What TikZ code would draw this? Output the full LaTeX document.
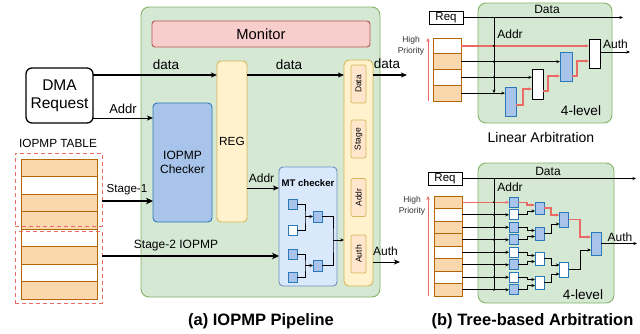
\documentclass[tikz,border=0pt]{standalone}
\usepackage{fontspec}
\setmainfont{Liberation Sans}
\usetikzlibrary{arrows.meta}
\definecolor{grnF}{HTML}{D5E8D4}
\definecolor{grnD}{HTML}{82B366}
\definecolor{redF}{HTML}{F8CECC}
\definecolor{redD}{HTML}{B85450}
\definecolor{ylwF}{HTML}{FFF2CC}
\definecolor{ylwD}{HTML}{D6B656}
\definecolor{tagF}{HTML}{FFE6CC}
\definecolor{bluF}{HTML}{A9C4EB}
\definecolor{bluD}{HTML}{2A78B8}
\definecolor{mtF}{HTML}{DAE8FC}
\definecolor{mtD}{HTML}{6C8EBF}
\definecolor{tabF}{HTML}{FAD7AC}
\definecolor{tabD}{HTML}{B46504}
\definecolor{hot}{HTML}{EA6B66}
\newcommand\fsz[2]{\fontsize{#1}{#2}\selectfont}
\begin{document}
\begin{tikzpicture}[x=1pt,y=-1pt,
  every node/.style={inner sep=0pt,outer sep=0pt},
  txt/.style={font=\fsz{13.5}{15}},
  lbl/.style={font=\fsz{12}{13}},
  panel/.style={draw=grnD,fill=grnF,line width=0.9pt,rounded corners=8pt},
  blk/.style={draw=bluD,fill=bluF,line width=0.8pt},
  wblk/.style={draw=bluD,fill=white,line width=0.8pt},
  kblk/.style={draw=black,fill=white,line width=0.8pt},
  row/.style={draw=tabD,line width=0.9pt,minimum width=#1},
  tag/.style={draw=ylwD,fill=tagF,line width=0.7pt,rounded corners=2pt,minimum width=15pt,minimum height=38pt},
  reqbox/.style={draw,line width=1pt,fill=white,minimum width=34pt,minimum height=13pt,font=\fsz{11.5}{12}},
  arr/.style={-{Stealth[length=6pt,width=5pt,inset=1.5pt]},line width=1.2pt},
  bigarr/.style={-{Stealth[length=7pt,width=6.5pt,inset=2pt]},line width=2.2pt},
  sarr/.style={-{Stealth[length=3.5pt,width=3pt,inset=1pt]},line width=0.8pt},
  link/.style={line width=0.8pt},
  hotarr/.style={sarr,draw=hot,line width=1.3pt},
  dot/.style={circle,fill=black,minimum size=2.4pt},
  caption/.style={font=\bfseries\fsz{16.5}{18}},
]
\useasboundingbox (0,0) rectangle (640,333);

% ---------------- (a) pipeline ----------------
\node[panel,minimum width=239pt,minimum height=290pt] (pipe) at (260.5,152) {};
\node[draw=redD,fill=redF,line width=0.9pt,rounded corners=3pt,minimum width=218pt,minimum height=26pt,font=\fsz{14.7}{16}] (mon) at (261,34) {Monitor};

\node[draw,line width=1.3pt,rounded corners=6pt,fill=white,minimum width=67pt,minimum height=55pt,align=center,font=\fsz{15.5}{18}] (dma) at (59.5,95.5) {DMA\\Request};

\node[blk,line width=0.9pt,rounded corners=4pt,minimum width=59pt,minimum height=119pt,align=center,font=\fsz{12}{14.5}] (chk) at (182.5,162.5) {IOPMP\\Checker};

\node[draw=ylwD,fill=ylwF,line width=0.9pt,rounded corners=4pt,minimum width=30pt,minimum height=161pt,font=\fsz{11.8}{13}] (reg) at (232,141.5) {REG};

% output register column
\node[draw=ylwD,fill=ylwF,line width=0.9pt,rounded corners=5pt,minimum width=29pt,minimum height=226pt] (col) at (358.5,173) {};
\foreach \n/\y/\t in {tData/84/Data,tStage/139/Stage,tAddr/197.5/Addr,tAuth/254/Auth}{
  \node[tag] (\n) at (358.5,\y) {};
  \node[rotate=90,font=\fsz{8.5}{9}] at (\n) {\t};
}

% IOPMP table
\node[lbl,font=\fsz{11.8}{13}] (tabl) at (58,143) {IOPMP TABLE};
\foreach \i/\c in {0/tabF,1/white,2/tabF,3/tabF,4/white,5/tabF,6/white,7/tabF}
  \node[row=76pt,fill=\c,minimum height=17.5pt] (ir\i) at (59,167.75+\i*17.5) {};
\node[draw=hot,dashed,dash pattern=on 4pt off 3pt,line width=1pt,minimum width=87pt,minimum height=73pt] (tab1) at (58.5,189.5) {};
\node[draw=hot,dashed,dash pattern=on 4pt off 3pt,line width=1pt,minimum width=87pt,minimum height=72pt] (tab2) at (58.5,267) {};

% MT checker
\node[draw=mtD,fill=mtF,line width=0.9pt,rounded corners=4pt,minimum width=58pt,minimum height=119pt] (mt) at (308,226.5) {};
\node[font=\bfseries\fsz{9.6}{11}] (mtl) at (308,183.5) {MT checker};
\foreach \n/\y/\s in {mA/204/blk,mB/230/wblk,mC/254/blk,mD/277/blk}
  \node[\s,minimum width=9pt,minimum height=10pt] (\n) at (292.5,\y) {};
\node[blk,minimum width=9pt,minimum height=11pt] (mE) at (317.5,216.5) {};
\node[blk,minimum width=9pt,minimum height=11pt] (mF) at (317.5,265.5) {};
\coordinate (jE) at (305,216.5);
\coordinate (jF) at (305,265.5);
\coordinate (jO) at (333,240);
\draw[link] (mA.east) -| (jE) |- (mB.east);
\draw[sarr] (jE) -- (mE.west);
\draw[link] (mC.east) -| (jF) |- (mD.east);
\draw[sarr] (jF) -- (mF.west);
\draw[link] (mE.east) -| (jO) |- (mF.east);
\draw[sarr] (jO) -- (col.west |- jO);

% pipeline connectors
\draw[arr] (dma.east |- 0,75) -- (reg.west |- 0,75);
\node[txt] at (166,65) {data};
\draw[arr,line width=1pt] (dma.east |- 0,118) -- (chk.west |- 0,118);
\node[txt,font=\fsz{13}{14}] at (123,108.5) {Addr};
\draw[arr] (reg.east |- 0,75) -- (col.west |- 0,75);
\node[txt] at (289,65) {data};
\draw[arr] (col.east |- 0,75) -- (407,75);
\node[txt] at (387,64) {data};
\draw[arr,line width=1pt] (reg.east |- 0,188) -- (mt.west |- 0,188);
\node[lbl] at (261.5,178) {Addr};
\draw[bigarr] (tab1.east |- 0,201) -- (chk.west |- 0,201);
\node[lbl,font=\fsz{11.6}{13}] at (127,190) {Stage-1};
\draw[bigarr] (tab2.east |- 0,256) -- (mt.west |- 0,256);
\node[lbl] at (176,246) {Stage-2 IOPMP};
\draw[arr,line width=1pt] (col.east |- 0,262) -- (400,262);
\node[lbl] at (385.5,251.5) {Auth};

\node[caption] at (261,321.5) {(a) IOPMP Pipeline};

% ---------------- (b) linear arbitration ----------------
\node[panel,minimum width=134pt,minimum height=120pt] (gL) at (545,63) {};
\node[reqbox] (reqL) at (446,17.5) {Req};
\draw[sarr,line width=1pt] (reqL.east) -- (623,17.5);
\node[lbl] at (547,9) {Data};
\foreach \i/\c in {0/white,1/tabF,2/white,3/tabF}
  \node[row=28pt,fill=\c,minimum height=15.75pt] (lr\i) at (447,45.875+\i*15.75) {};
\draw[-{Stealth[length=4pt,width=3.5pt]},draw=hot,line width=1pt] (lr3.south west) ++(-5,0) coordinate (pL0) -- (pL0 |- lr0.north);
\node[align=center,font=\fsz{8.5}{11},text=black!80] at (411,46) {High\\Priority};

\node[blk,minimum width=11pt,minimum height=29pt] (lb1) at (510.5,101.5) {};
\node[kblk,minimum width=11pt,minimum height=30pt] (lw1) at (537.5,84) {};
\node[blk,minimum width=12pt,minimum height=29pt] (lb2) at (566,66.5) {};
\node[kblk,minimum width=11pt,minimum height=29pt] (lw2) at (594.5,53.5) {};

\coordinate (aL) at (494,17.5);
\draw[sarr] (aL) -- (aL |- lr3.east);
\node[lbl] at (510,34) {Addr};
\draw[hotarr] (lr0.east) -- (lw2.west |- lr0.east);
\draw[sarr] (lr1.east) -- (lb2.west |- lr1.east);
\draw[sarr] (lr2.east) -- (lw1.west |- lr2.east);
\draw[sarr] (lr3.east) -- (lb1.west |- lr3.east);
\foreach \i in {0,1,2} \node[dot] at (aL |- lr\i.east) {};

\draw[hotarr] (lb1.east |- 0,105) -| (523,89) -- (lw1.west |- 0,89);
\draw[hotarr] (lw1.east |- 0,91) -| (548,76) -- (lb2.west |- 0,76);
\draw[hotarr] (lb2.east |- 0,76) -| (577,61) -- (lw2.west |- 0,61);
\draw[sarr,line width=1pt] (lw2.east |- 0,52) -- (630,52);
\node[lbl] at (615.5,44.5) {Auth};
\node[font=\fsz{13.6}{15}] at (581,111) {4-level};
\node[font=\fsz{14}{15}] at (541,137.5) {Linear Arbitration};

% ---------------- (b) tree arbitration ----------------
\node[panel,minimum width=136pt,minimum height=140pt] (gT) at (546,233) {};
\node[reqbox] (reqT) at (445,178.5) {Req};
\draw[sarr,line width=1pt] (reqT.east) -- (636,178.5);
\node[lbl] at (548,171) {Data};
\foreach \i/\c in {0/tabF,1/white,2/tabF,3/tabF,4/white,5/tabF,6/white,7/tabF}
  \node[row=28pt,fill=\c,minimum height=12.5pt] (tr\i) at (448,202.25+\i*12.5) {};
\draw[-{Stealth[length=4pt,width=3.5pt]},draw=hot,line width=1pt] (tr7.south west) ++(-6,0) coordinate (pT0) -- (pT0 |- tr0.north);
\node[align=center,font=\fsz{8.5}{11},text=black!80] at (412,206) {High\\Priority};

\foreach \i/\s in {0/blk,1/wblk,2/blk,3/blk,4/wblk,5/blk,6/wblk,7/blk}
  \node[\s,minimum width=9pt,minimum height=10pt] (lf\i) at (513.5,202.25+\i*12.5) {};
\node[blk,minimum width=9pt,minimum height=12pt] (p2a) at (539.5,208) {};
\node[blk,minimum width=9pt,minimum height=13pt] (p2b) at (539.5,233.5) {};
\node[wblk,minimum width=9pt,minimum height=13pt] (p2c) at (539.5,258.5) {};
\node[wblk,minimum width=9pt,minimum height=13pt] (p2d) at (539.5,282.5) {};
\node[blk,minimum width=9pt,minimum height=15pt] (p3a) at (564,219.5) {};
\node[wblk,minimum width=9pt,minimum height=15pt] (p3b) at (564,269.5) {};
\node[blk,minimum width=10pt,minimum height=23pt] (p4) at (596,243.5) {};

\coordinate (aT) at (494,178.5);
\draw[link,line width=1pt] (aT) -- (aT |- tr7.east);
\node[lbl] at (510,187.5) {Addr};
\draw[hotarr] (tr0.east) -- (lf0.west);
\foreach \i in {1,...,7} \draw[sarr] (tr\i.east) -- (lf\i.west);
\foreach \i in {0,...,7} \node[dot] at (aT |- tr\i.east) {};

% level 1 -> level 2
\draw[hotarr] (lf0.east) -| (527,205) -- (p2a.west |- 0,205);
\draw[sarr] (lf1.east) -| (527,211) -- (p2a.west |- 0,211);
\draw[sarr] (lf2.east) -| (527,230.5) -- (p2b.west |- 0,230.5);
\draw[sarr] (lf3.east) -| (527,236.5) -- (p2b.west |- 0,236.5);
\draw[sarr] (lf4.east) -| (527,255.5) -- (p2c.west |- 0,255.5);
\draw[sarr] (lf5.east) -| (527,261.5) -- (p2c.west |- 0,261.5);
\draw[sarr] (lf6.east) -| (527,279.5) -- (p2d.west |- 0,279.5);
\draw[sarr] (lf7.east) -| (527,285.5) -- (p2d.west |- 0,285.5);
% level 2 -> level 3
\draw[hotarr] (p2a.east) -| (551,215) -- (p3a.west |- 0,215);
\draw[sarr] (p2b.east) -| (551,224) -- (p3a.west |- 0,224);
\draw[sarr] (p2c.east) -| (551,265) -- (p3b.west |- 0,265);
\draw[sarr] (p2d.east) -| (551,274) -- (p3b.west |- 0,274);
% level 3 -> level 4
\draw[hotarr] (p3a.east) -| (580,237) -- (p4.west |- 0,237);
\draw[sarr] (p3b.east) -| (580,250) -- (p4.west |- 0,250);
\draw[sarr,line width=1pt] (p4.east) -- (637,243.5);
\node[lbl] at (620,237.5) {Auth};
\node[font=\fsz{13.6}{15}] at (583,295) {4-level};

\node[caption] at (532.5,321.5) {(b) Tree-based Arbitration};
\end{tikzpicture}
\end{document}
